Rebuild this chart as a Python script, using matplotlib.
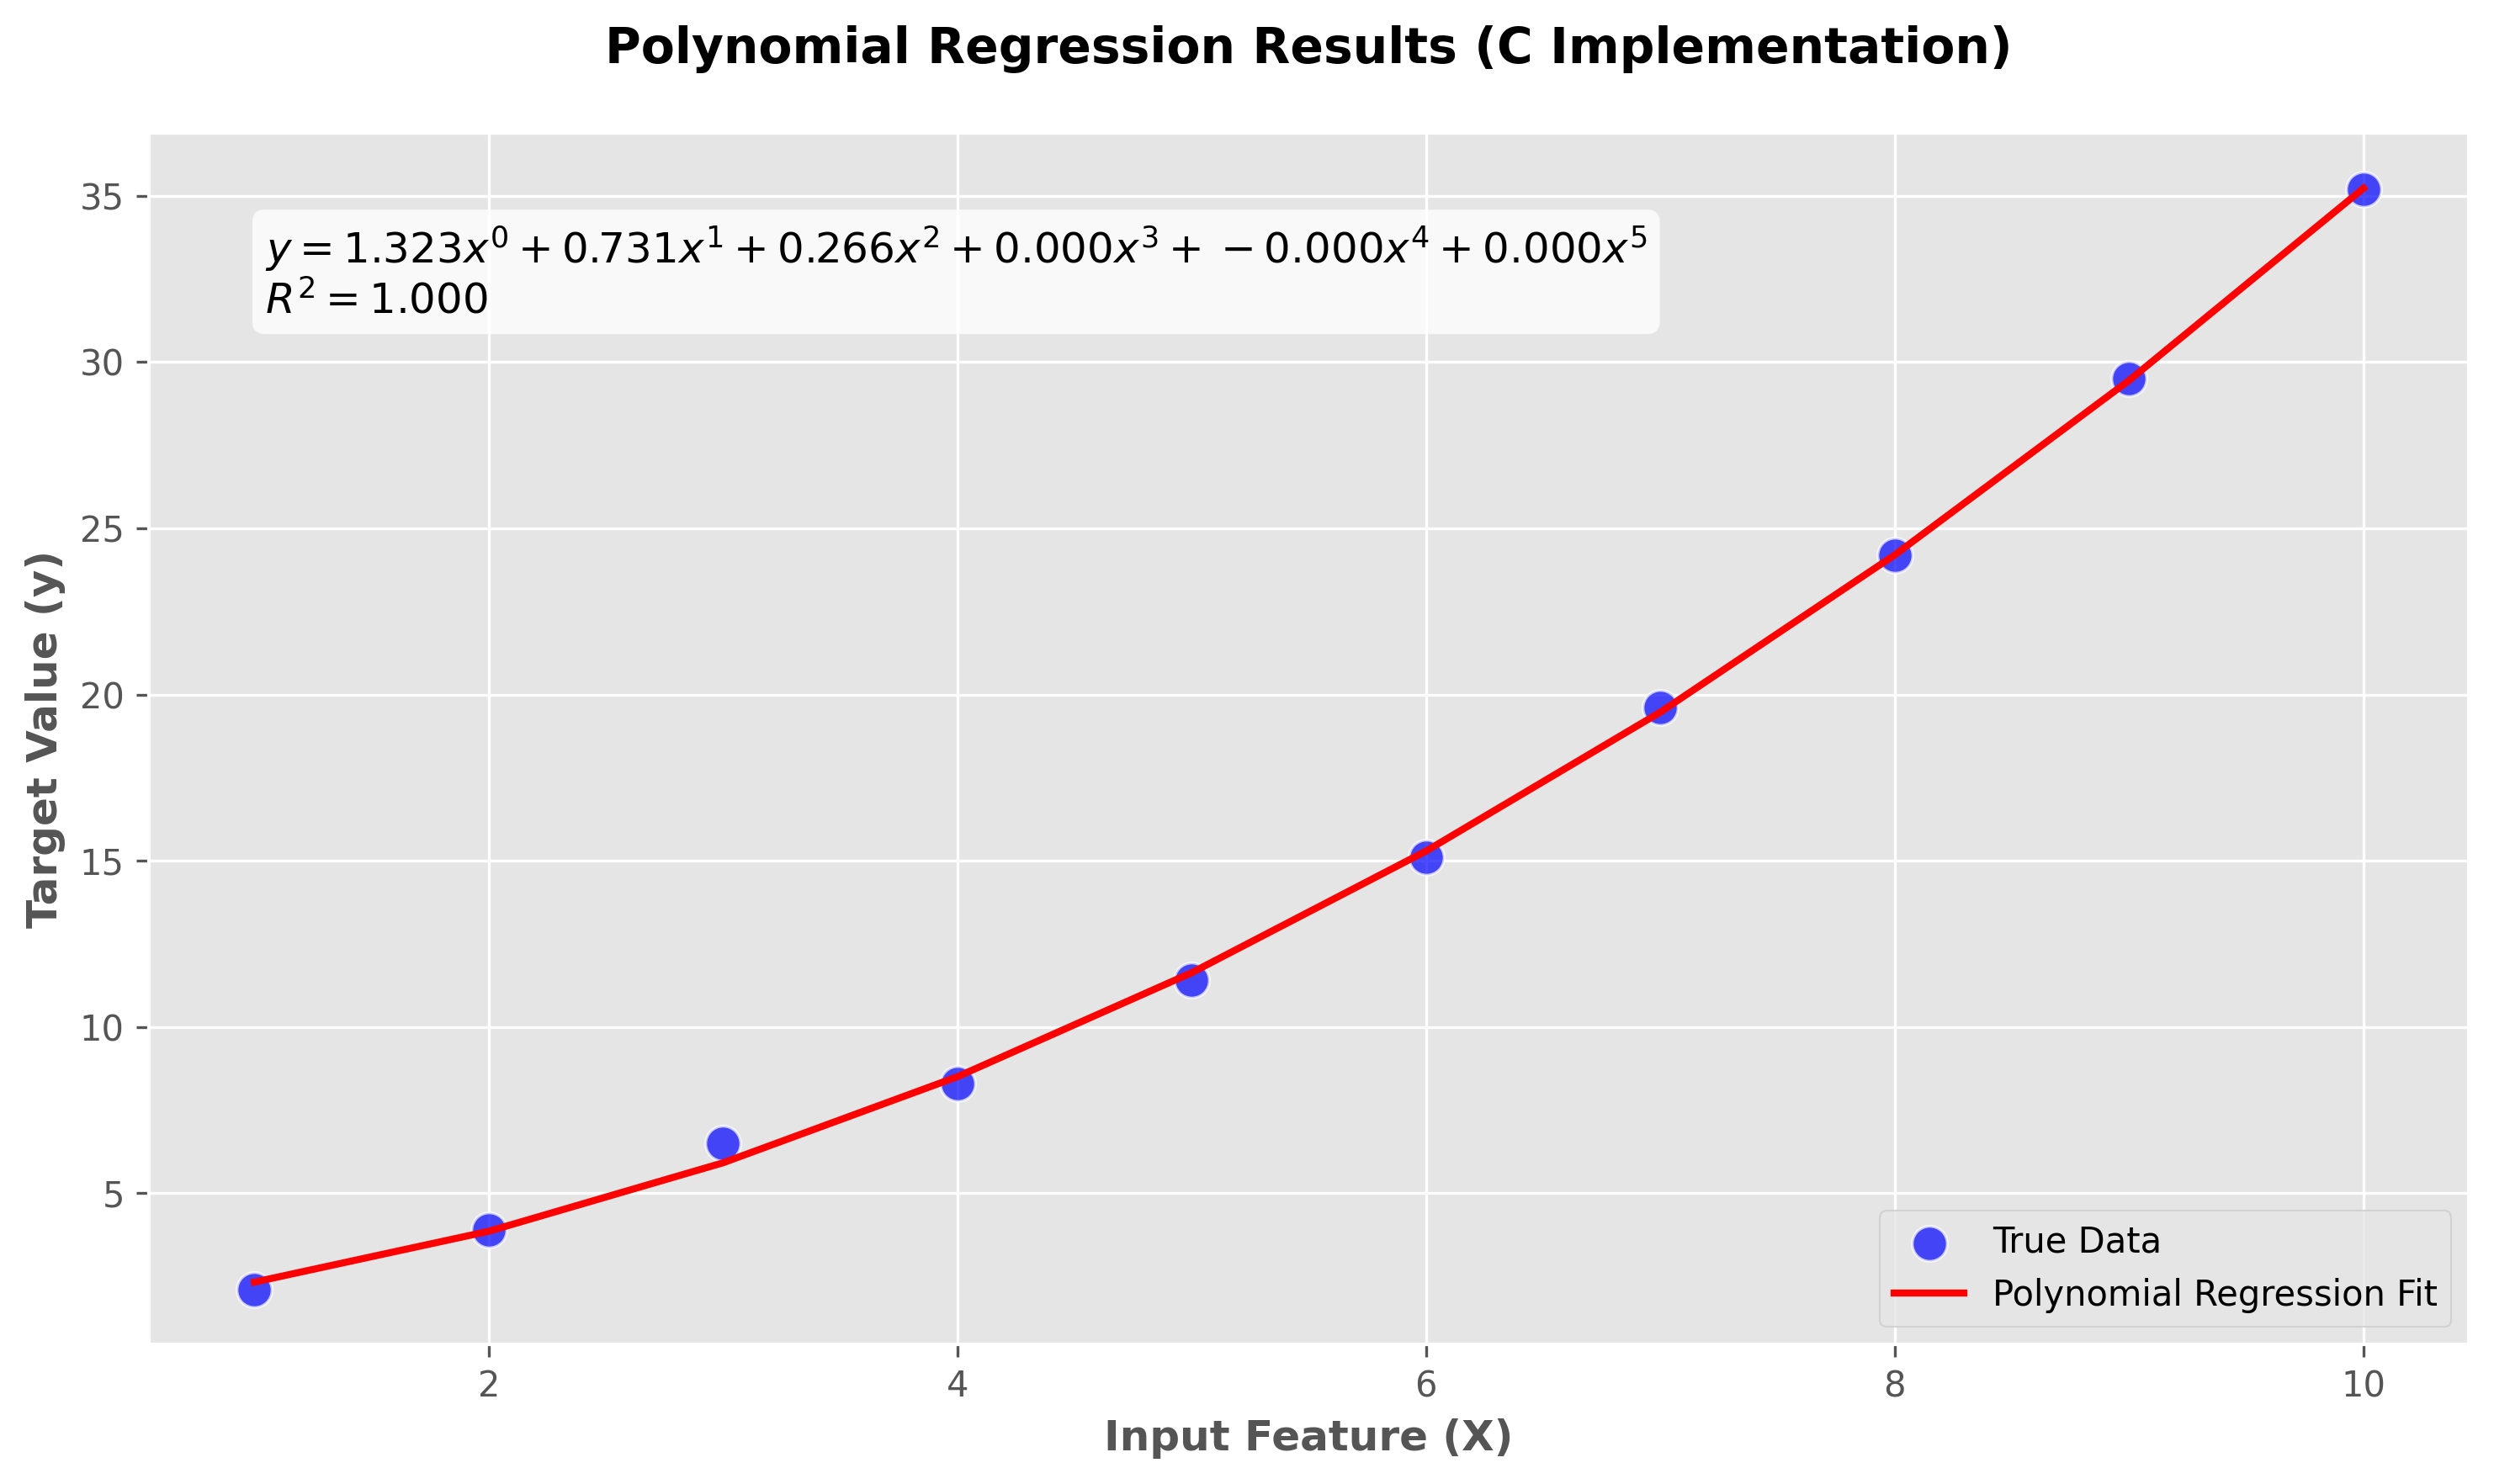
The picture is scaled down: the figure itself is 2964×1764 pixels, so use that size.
import matplotlib
matplotlib.use("Agg")
import matplotlib.pyplot as plt

plt.style.use('ggplot')

# data
x_vals = [1, 2, 3, 4, 5, 6, 7, 8, 9, 10]
y_true = [2.1, 3.9, 6.5, 8.3, 11.4, 15.1, 19.6, 24.2, 29.5, 35.2]
y_fit = [2.32, 3.85, 5.91, 8.50, 11.63, 15.29, 19.47, 24.20, 29.45, 35.23]
coef_labels = ["1.323", "0.731", "0.266", "0.000", "-0.000", "0.000"]
r2_label = "1.000"

fig, ax = plt.subplots(figsize=(10, 6))

ax.scatter(x_vals, y_true, color='blue', alpha=0.7, s=100,
           edgecolors='white', linewidths=0.8, label='True Data')
ax.plot(x_vals, y_fit, color='red', linewidth=2, label='Polynomial Regression Fit')

terms = " + ".join(c + "x^{" + str(i) + "}" for i, c in enumerate(coef_labels))
eq = "$y = " + terms + "$\n$R^2 = " + r2_label + "$"
ax.text(0.05, 0.925, eq, transform=ax.transAxes, fontsize=12,
        verticalalignment='top',
        bbox=dict(boxstyle='round', facecolor='white', alpha=0.8, edgecolor='none'))

ax.set_title('Polynomial Regression Results (C Implementation)',
             fontsize=14, fontweight='bold', pad=20)
ax.set_xlabel('Input Feature (X)', fontsize=12, fontweight='bold')
ax.set_ylabel('Target Value (y)', fontsize=12, fontweight='bold')
ax.legend(loc='lower right')

plt.tight_layout()
plt.savefig('out.png', dpi=300, bbox_inches='tight')
